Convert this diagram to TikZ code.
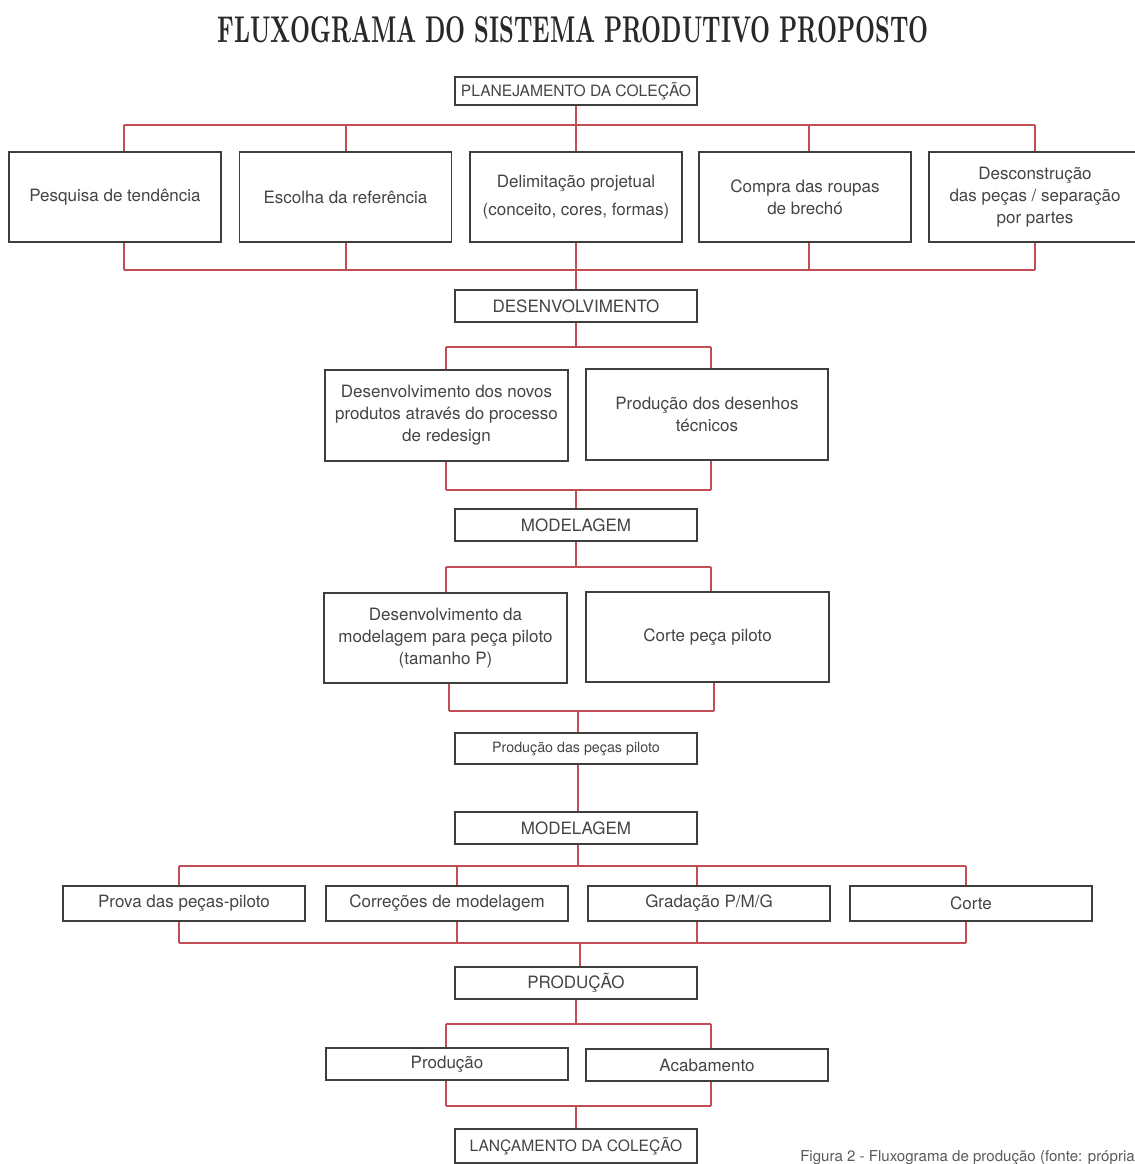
\documentclass[tikz,border=0pt]{standalone}
\usepackage{graphicx}
\usepackage{fontspec}
\newfontfamily\hel{TeX Gyre Heros}
\definecolor{busred}{RGB}{192,78,84}
\definecolor{boxgray}{RGB}{62,62,62}
\definecolor{txt}{RGB}{68,68,68}
\definecolor{titletxt}{RGB}{40,40,40}
\definecolor{captxt}{RGB}{90,90,90}
\begin{document}
\begin{tikzpicture}[x=0.75pt,y=-0.75pt,
  box/.style={draw=boxgray, line width=1.05pt, inner sep=0pt, align=center, text=txt,
              font=\hel\fontsize{12.75}{16.6}\selectfont},
  capsbox/.style={box, font=\hel\fontsize{11.7}{14}\selectfont},
  wmid/.style={minimum width=181.5pt},
  wtop/.style={minimum width=159pt},
  htall/.style={minimum height=67.5pt},
  hlow/.style={minimum height=24pt},
  bus/.style={draw=busred, line width=1.05pt},
]
\useasboundingbox (0,0) rectangle (1135,1164);
\clip (0,0) rectangle (1135,1164);

% title
\node[text=titletxt] (title) at (573,30) {\resizebox{533.25pt}{19.5pt}{\bfseries FLUXOGRAMA DO SISTEMA PRODUTIVO PROPOSTO}};

% ---------- section 1
\node[capsbox, wmid, minimum height=21pt] (plan) at (576,91) {PLANEJAMENTO DA COLEÇÃO};
\node[box, wtop, htall] (pesq) at (115,197) {Pesquisa de tendência};
\node[box, wtop, htall] (esco) at (345.5,197) {Escolha da referência};
\node[box, wtop, htall] (deli) at (576,197) {Delimitação projetual\\[4.5pt](conceito, cores, formas)};
\node[box, wtop, htall] (comp) at (805,197) {Compra das roupas\\de brechó};
\node[box, wtop, htall] (desc) at (1035,197) {Desconstrução\\das peças / separação\\por partes};
\foreach \n/\x in {pesq/124,esco/346,deli/576,comp/809,desc/1035}{
  \coordinate (\n-t) at (\x,125);
  \coordinate (\n-b) at (\x,270);
  \draw[bus] (\n-t) -- (\n-t |- \n.north);
  \draw[bus] (\n-b) -- (\n-b |- \n.south);
}
\draw[bus] (pesq-t) -- (desc-t);
\draw[bus] (pesq-b) -- (desc-b);
\draw[bus] (plan.south) -- (deli-t);

% ---------- section 2
\node[box, wmid, hlow] (dev) at (576,306) {DESENVOLVIMENTO};
\draw[bus] (deli-b) -- (dev.north);
\node[box, minimum width=182.25pt, minimum height=68.25pt] (dva) at (446.5,415.5) {Desenvolvimento dos novos\\produtos através do processo\\de redesign};
\node[box, wmid, minimum height=68.25pt] (dvb) at (707,414.5) {Produção dos desenhos\\técnicos};
\coordinate (dva-t) at (446,347); \coordinate (dvb-t) at (711,347);
\coordinate (dva-b) at (446,490); \coordinate (dvb-b) at (711,490);
\draw[bus] (dva-t) -- (dvb-t);
\draw[bus] (dva-b) -- (dvb-b);
\draw[bus] (dev.south) -- (dev.south |- dva-t);
\foreach \n in {dva,dvb}{
  \draw[bus] (\n-t) -- (\n-t |- \n.north);
  \draw[bus] (\n-b) -- (\n-b |- \n.south);
}

% ---------- section 3
\node[box, wmid, hlow] (moda) at (576,525) {MODELAGEM};
\draw[bus] (moda.north |- dva-b) -- (moda.north);
\node[box, minimum width=182.25pt, htall] (mda) at (445.5,638) {Desenvolvimento da\\modelagem para peça piloto\\(tamanho P)};
\node[box, minimum width=182.25pt, htall] (mdb) at (707.5,637) {Corte peça piloto};
\coordinate (mda-t) at (446,567); \coordinate (mdb-t) at (711,567);
\coordinate (mda-b) at (449,711); \coordinate (mdb-b) at (714,711);
\draw[bus] (mda-t) -- (mdb-t);
\draw[bus] (mda-b) -- (mdb-b);
\draw[bus] (moda.south) -- (moda.south |- mda-t);
\foreach \n in {mda,mdb}{
  \draw[bus] (\n-t) -- (\n-t |- \n.north);
  \draw[bus] (\n-b) -- (\n-b |- \n.south);
}
\node[box, wmid, minimum height=23.25pt, font=\hel\fontsize{10.7}{13}\selectfont] (pilot) at (576,748.5) {Produção das peças piloto};
\node[box, wmid, hlow] (modb) at (576,828) {MODELAGEM};
\coordinate (c3) at (578,711);
\draw[bus] (c3) -- (c3 |- pilot.north);
\draw[bus] (c3 |- pilot.south) -- (c3 |- modb.north);

% ---------- section 4
\node[box, wmid, minimum height=26.25pt] (prova) at (184,903.5) {Prova das peças-piloto};
\node[box, wmid, minimum height=26.25pt] (corr) at (447,903.5) {Correções de modelagem};
\node[box, wmid, minimum height=26.25pt] (grad) at (709,903.5) {Gradação P/M/G};
\node[box, wmid, minimum height=26.25pt] (corte) at (971,903.5) {Corte};
\foreach \n/\x in {prova/179,corr/457,grad/697,corte/966}{
  \coordinate (\n-t) at (\x,866);
  \coordinate (\n-b) at (\x,943);
  \draw[bus] (\n-t) -- (\n-t |- \n.north);
  \draw[bus] (\n-b) -- (\n-b |- \n.south);
}
\draw[bus] (prova-t) -- (corte-t);
\draw[bus] (prova-b) -- (corte-b);
\draw[bus] (c3 |- modb.south) -- (c3 |- prova-t);

% ---------- section 5
\node[box, wmid, hlow] (prod) at (576,983) {PRODUÇÃO};
\coordinate (c4) at (580,943);
\draw[bus] (c4) -- (c4 |- prod.north);
\node[box, minimum width=181.5pt, hlow] (pra) at (447,1064) {Produção};
\node[box, minimum width=181.5pt, hlow] (prb) at (707,1065) {Acabamento};
\coordinate (pra-t) at (446,1024); \coordinate (prb-t) at (711,1024);
\coordinate (pra-b) at (446,1106); \coordinate (prb-b) at (711,1106);
\draw[bus] (pra-t) -- (prb-t);
\draw[bus] (pra-b) -- (prb-b);
\draw[bus] (prod.south) -- (prod.south |- pra-t);
\foreach \n in {pra,prb}{
  \draw[bus] (\n-t) -- (\n-t |- \n.north);
  \draw[bus] (\n-b) -- (\n-b |- \n.south);
}
\node[capsbox, wmid, minimum height=25.5pt] (lanc) at (576,1146) {LANÇAMENTO DA COLEÇÃO};
\draw[bus] (lanc.north |- pra-b) -- (lanc.north);

% caption
\node[anchor=base west, inner sep=0pt, text=captxt, font=\hel\fontsize{11.3}{13}\selectfont] (cap) at (800,1161) {Figura 2 - Fluxograma de produção (fonte: própria};
\end{tikzpicture}
\end{document}
